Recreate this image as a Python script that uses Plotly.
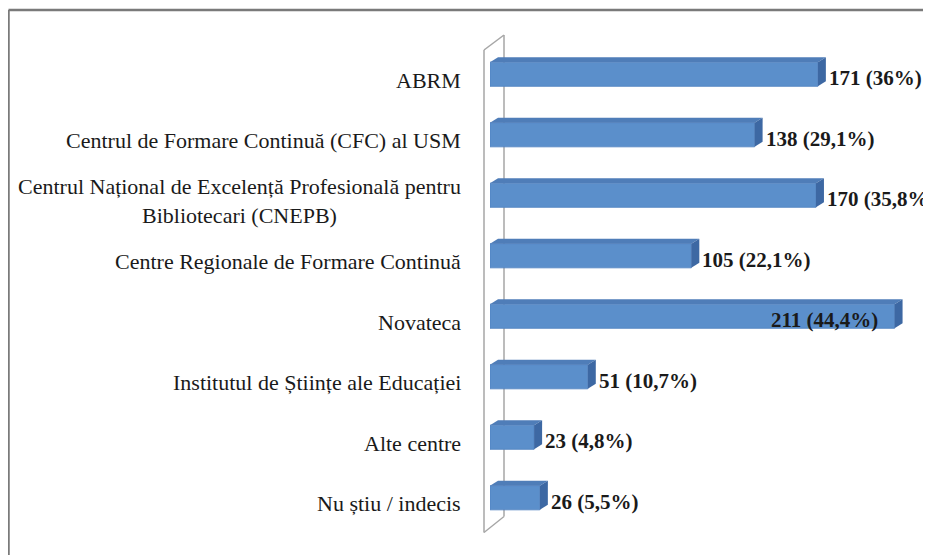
import plotly.graph_objects as go

# Date
categories = [
    "ABRM",
    "Centrul de Formare Continuă (CFC) al USM",
    "Centrul Național de Excelență Profesională pentru<br>Bibliotecari (CNEPB)",
    "Centre Regionale de Formare Continuă",
    "Novateca",
    "Institutul de Științe ale Educației",
    "Alte centre",
    "Nu știu / indecis",
]
counts = [171, 138, 170, 105, 211, 51, 23, 26]
percents = ["36%", "29,1%", "35,8%", "22,1%", "44,4%", "10,7%", "4,8%", "5,5%"]
inside_labels = ["Novateca"]

# Mise en page (pixels de la page ; la page ajoute une marge de 8 px)
OFF = 8
W, H = 931, 555
L, T = 490 - OFF, 44 - OFF
XMAX = 230
plot_w = 441
plot_h = 484.5
R = W - L - plot_w
B = H - T - plot_h
px_x = plot_w / XMAX
px_y = plot_h / len(categories)

BAR_W = 0.40
DX, DY = 8 / px_x, 5 / px_y      # profondeur 3D
FRONT = "#5b8fcb"
EDGE = "#4f82c0"
TOP = "#4f7db8"
SIDE = "#3d68a3"
FONT = "Liberation Serif"
TXT = "#1a1a1a"


def paper_x(px):
    # px : coordonnée dans la page
    return (px - OFF - L) / plot_w


def paper_y(py):
    return 1 - (py - OFF - T) / plot_h


fig = go.Figure(
    go.Bar(
        x=counts,
        y=list(range(len(categories))),
        orientation="h",
        width=BAR_W,
        marker=dict(color=FRONT, line=dict(width=0.8, color=EDGE)),
        hoverinfo="skip",
    )
)

shapes = []
# mur 3D à gauche
wall = dict(type="line", xref="paper", yref="paper", layer="below",
            line=dict(color="#a6a6a6", width=1.5))
shapes += [
    dict(wall, x0=paper_x(484), x1=paper_x(484), y0=paper_y(50), y1=paper_y(533)),
    dict(wall, x0=paper_x(504), x1=paper_x(504), y0=paper_y(35), y1=paper_y(517)),
    dict(wall, x0=paper_x(484), x1=paper_x(504), y0=paper_y(50), y1=paper_y(35)),
    dict(wall, x0=paper_x(484), x1=paper_x(504), y0=paper_y(533), y1=paper_y(517)),
]

annotations = []
for i, (cat, v, p) in enumerate(zip(categories, counts, percents)):
    top = i - BAR_W / 2
    bot = i + BAR_W / 2
    shapes.append(dict(
        type="path", xref="x", yref="y", line=dict(width=0), fillcolor=TOP,
        path=f"M 0,{top} L {v},{top} L {v + DX},{top - DY} L {DX},{top - DY} Z",
    ))
    shapes.append(dict(
        type="path", xref="x", yref="y", line=dict(width=0), fillcolor=SIDE,
        path=f"M {v},{top} L {v + DX},{top - DY} L {v + DX},{bot - DY} L {v},{bot} Z",
    ))
    annotations.append(dict(
        xref="paper", yref="y", x=0, y=i, xanchor="right", xshift=-27,
        yshift=-6, align="center",
        text=cat, showarrow=False,
        font=dict(family=FONT, size=22, color=TXT),
    ))
    inside = cat in inside_labels
    annotations.append(dict(
        xref="x", yref="y", x=v, y=i,
        xanchor="right" if inside else "left",
        xshift=-15 if inside else 9, yshift=-4,
        text=f"<b>{v} ({p})</b>", showarrow=False,
        font=dict(family=FONT, size=21, color=TXT),
    ))

# cadre
frame = dict(type="line", xref="paper", yref="paper",
             line=dict(color="#7a7a7a", width=2.5))
shapes += [
    dict(frame, x0=paper_x(OFF + 0.5), x1=paper_x(945), y0=paper_y(10), y1=paper_y(10)),
    dict(frame, x0=paper_x(OFF + 0.5), x1=paper_x(OFF + 0.5), y0=paper_y(10), y1=paper_y(570)),
]

fig.update_layout(
    width=W, height=H,
    margin=dict(l=L, r=R, t=T, b=B),
    paper_bgcolor="white", plot_bgcolor="white",
    showlegend=False,
    xaxis=dict(range=[0, XMAX], visible=False),
    yaxis=dict(range=[len(categories) - 0.5, -0.5], visible=False),
    shapes=shapes,
    annotations=annotations,
)

fig.write_html("out.html")
